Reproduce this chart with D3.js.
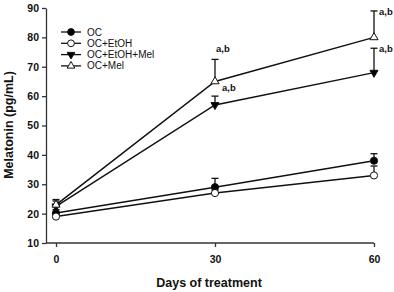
<!DOCTYPE html>
<html><head><meta charset="utf-8">
<script src="https://cdn.jsdelivr.net/npm/d3@7"></script>
<style>body{margin:0;background:#fff}svg{display:block}</style>
</head><body>
<script>
const days = [0, 30, 60];
const seriesNames = ["OC", "OC+EtOH", "OC+EtOH+Mel", "OC+Mel"];
const ocVals = [20.2, 29, 38];
const ocErr = [1.2, 3, 2.4];
const etohVals = [19, 27, 33];
const etohErr = [1, 1, 3.2];
const etohMelVals = [22.5, 57, 68];
const etohMelErr = [1.8, 3, 8.3];
const melVals = [23, 65, 80];
const melErr = [1.8, 7.5, 9];
const yTicks = [10, 20, 30, 40, 50, 60, 70, 80, 90];
const xTicks = [0, 30, 60];
const sigLabels = [
  {series: 3, day: 30, text: "a,b", pos: "above"},
  {series: 2, day: 30, text: "a,b", pos: "below"},
  {series: 3, day: 60, text: "a,b", pos: "right"},
  {series: 2, day: 60, text: "a,b", pos: "right"}
];

const W = 394, H = 292;
const FONT = "Liberation Sans, Arial, sans-serif";
const svg = d3.select("body").append("svg").attr("width", W).attr("height", H);
const x = d3.scaleLinear().domain([0, 60]).range([56, 374]);
const y = d3.scaleLinear().domain([10, 90]).range([243, 8]);
const axisColor = "#333";

const series = [
  {name: seriesNames[0], vals: ocVals, err: ocErr, shape: "circle", fill: "#000"},
  {name: seriesNames[1], vals: etohVals, err: etohErr, shape: "circle", fill: "#fff"},
  {name: seriesNames[2], vals: etohMelVals, err: etohMelErr, shape: "tridown", fill: "#000"},
  {name: seriesNames[3], vals: melVals, err: melErr, shape: "triup", fill: "#fff"}
];

// axes
const yAxis = svg.append("g").attr("transform", "translate(46,0)")
  .call(d3.axisLeft(y).tickValues(yTicks).tickSize(4).tickPadding(3).tickSizeOuter(0));
const xAxis = svg.append("g").attr("transform", "translate(0,243)")
  .call(d3.axisBottom(x).tickValues(xTicks).tickSize(4).tickPadding(9).tickSizeOuter(0));
[yAxis, xAxis].forEach(g => {
  g.selectAll("path,line").attr("stroke", axisColor).attr("stroke-width", 1.3);
  g.selectAll("text").attr("font-family", FONT)
    .attr("font-size", 10.5).attr("font-weight", "bold").attr("fill", "#111");
});
xAxis.select("path.domain").attr("d", "M46,0H374");

function symPath(shape, r) {
  if (shape === "circle") return d3.symbol().type(d3.symbolCircle).size(Math.PI * r * r)();
  return d3.symbol().type(d3.symbolTriangle).size(r * r * 2.2)();
}

// lines & error bars
const line = d3.line().x((d, i) => x(days[i])).y(d => y(d));
series.forEach(s => {
  svg.append("path").attr("d", line(s.vals)).attr("fill", "none")
    .attr("stroke", "#111").attr("stroke-width", 1.5);
});
series.forEach(s => {
  s.vals.forEach((v, i) => {
    const cx = x(days[i]);
    const top = y(v + s.err[i]);
    svg.append("line").attr("x1", cx).attr("x2", cx).attr("y1", y(v)).attr("y2", top)
      .attr("stroke", "#111").attr("stroke-width", 1.3);
    svg.append("line").attr("x1", cx - 3.5).attr("x2", cx + 3.5).attr("y1", top).attr("y2", top)
      .attr("stroke", "#111").attr("stroke-width", 1.3);
  });
});
series.forEach(s => {
  s.vals.forEach((v, i) => {
    const rot = s.shape === "tridown" ? 180 : 0;
    svg.append("path").attr("d", symPath(s.shape, 3.6))
      .attr("transform", `translate(${x(days[i])},${y(v)}) rotate(${rot})`)
      .attr("fill", s.fill).attr("stroke", "#111").attr("stroke-width", 1);
  });
});

// significance labels
sigLabels.forEach(l => {
  const s = series[l.series];
  const i = days.indexOf(l.day);
  const cx = x(l.day);
  let tx, ty;
  if (l.pos === "above") { tx = cx + 1; ty = y(s.vals[i] + s.err[i]) - 7; }
  else if (l.pos === "below") { tx = cx + 7; ty = y(s.vals[i]) - 14; }
  else { tx = cx + 5; ty = y(s.vals[i] + s.err[i]) + 4; }
  svg.append("text").attr("x", tx).attr("y", ty).text(l.text)
    .attr("font-family", FONT).attr("font-size", 9.5)
    .attr("font-weight", "bold").attr("fill", "#111");
});

// legend
const lg = svg.append("g");
series.forEach((s, k) => {
  const ly = 32 + k * 11.3;
  lg.append("line").attr("x1", 61).attr("x2", 81).attr("y1", ly).attr("y2", ly)
    .attr("stroke", "#111").attr("stroke-width", 1.3);
  const rot = s.shape === "tridown" ? 180 : 0;
  lg.append("path").attr("d", symPath(s.shape, 3.4))
    .attr("transform", `translate(71,${ly}) rotate(${rot})`)
    .attr("fill", s.fill).attr("stroke", "#111").attr("stroke-width", 1);
  lg.append("text").attr("x", 87).attr("y", ly + 3.5).text(s.name)
    .attr("font-family", FONT).attr("font-size", 10)
    .attr("fill", "#111");
});

// axis titles
svg.append("text").attr("transform", "translate(13,125) rotate(-90)")
  .attr("text-anchor", "middle").text("Melatonin (pg/mL)")
  .attr("font-family", FONT).attr("font-size", 12.5)
  .attr("font-weight", "bold").attr("fill", "#111");
svg.append("text").attr("x", 209).attr("y", 287)
  .attr("text-anchor", "middle").text("Days of treatment")
  .attr("font-family", FONT).attr("font-size", 12.5)
  .attr("font-weight", "bold").attr("fill", "#111");
</script>
</body></html>
